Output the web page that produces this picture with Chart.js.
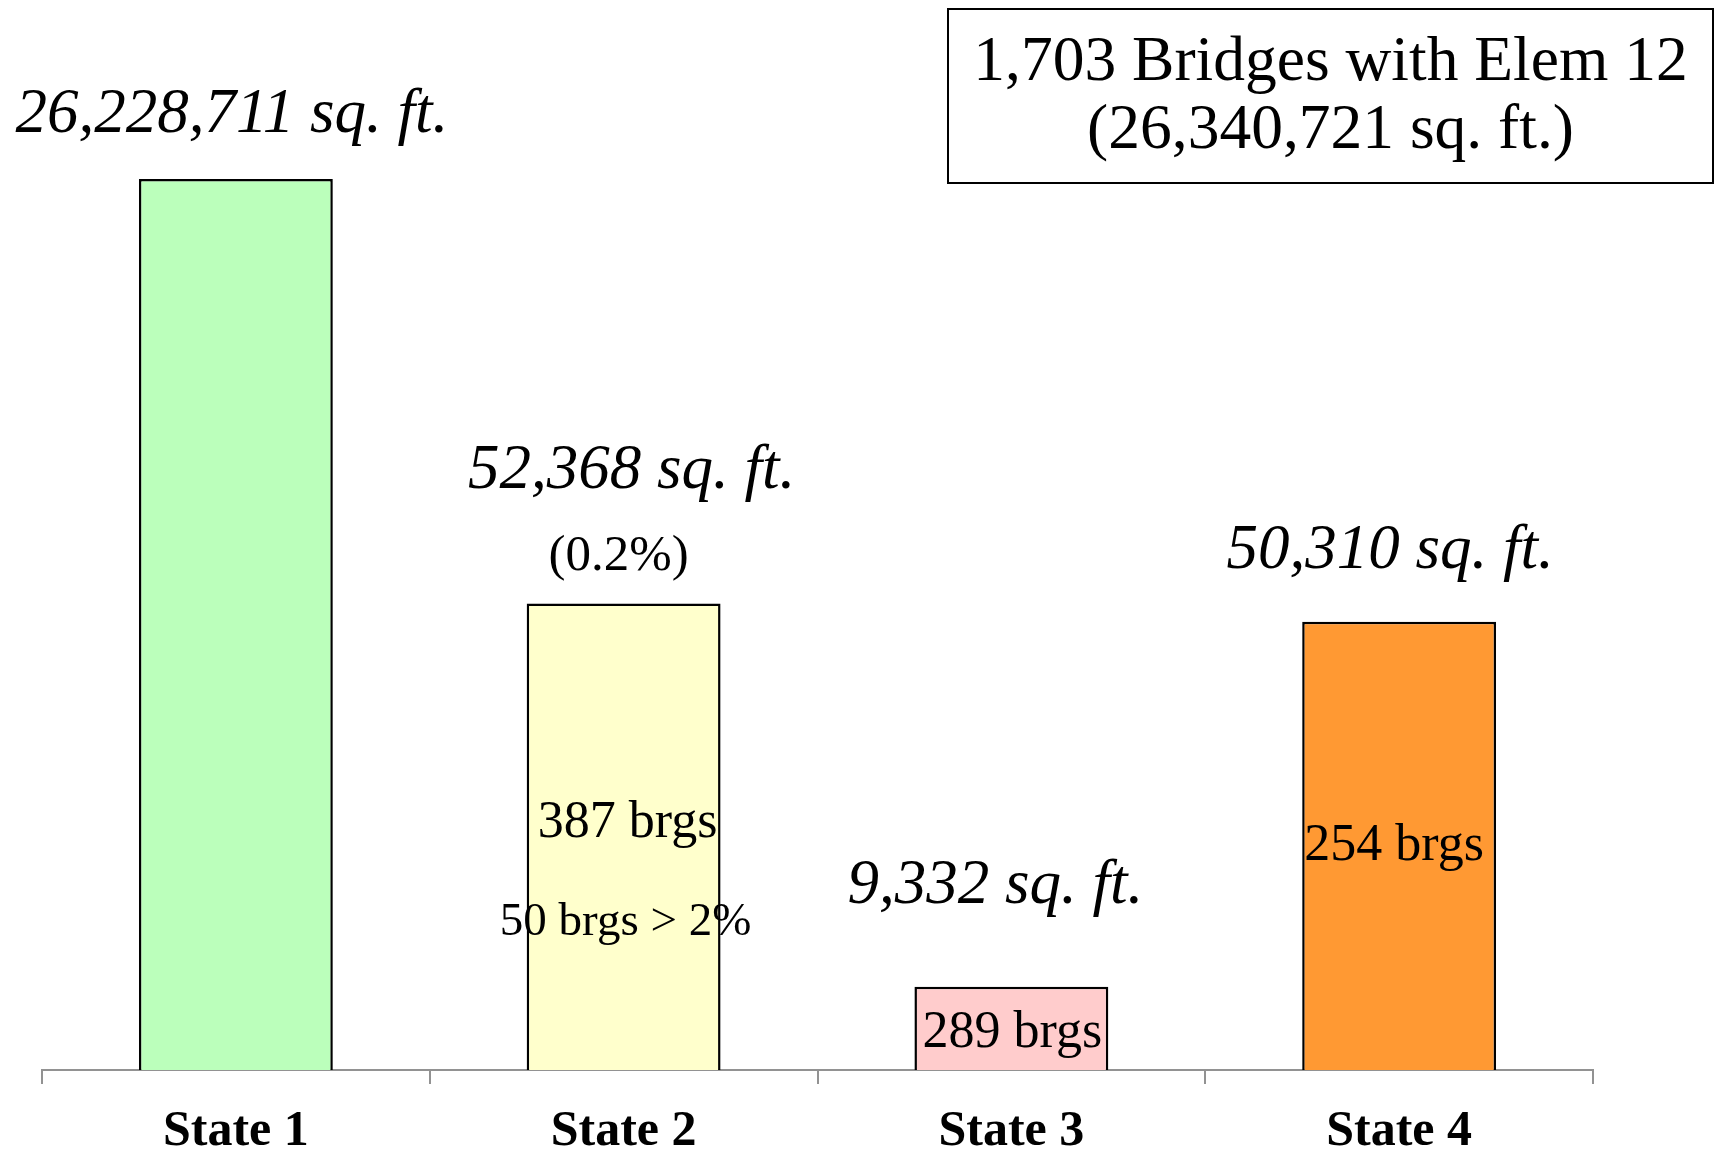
<!DOCTYPE html>
<html>
<head>
<meta charset="utf-8">
<script src="https://cdn.jsdelivr.net/npm/chart.js@4/dist/chart.umd.min.js"></script>
<style>
  html, body { margin: 0; padding: 0; background: #fff; }
  #wrap { width: 1719px; height: 1153px; }
</style>
</head>
<body>
<div id="wrap"><canvas id="c" width="1719" height="1153"></canvas></div>
<script>
// Deck area of element 12 by condition state
const categories   = ['State 1', 'State 2', 'State 3', 'State 4'];
const areaSqFt     = [26228711, 52368, 9332, 50310];
const bridgeCounts = [null, 387, 289, 254];
const shareLabels  = [null, '(0.2%)', null, null];
const noteLabels   = [null, '50 brgs > 2%', null, null];
const barColors    = ['#BBFFBB', '#FFFFCC', '#FFCCCC', '#FF9933'];
const totalBridges = 1703;
const totalSqFt    = 26340721;

// The value axis stops at 100,000 sq. ft.; State 1 runs off the top of it.
const axisMax = 100000;
const plotted = areaSqFt.map(v => Math.min(v, axisMax));

const SERIF = '"Liberation Serif", "Times New Roman", serif';
const fmt = n => n.toLocaleString('en-US');

// Text placement around each bar (pixel offsets from the bar's top / centre)
const areaOffset  = [[-4, -47], [8, -115], [-16, -84], [-9, -54]];
const shareOffset = [null, [-5, -33], null, null];
const countOffset = [null, [4, 234], [1, 60], [-5, 238]];
const noteOffset  = [null, [2, 332], null, null];

const annotate = {
  id: 'annotate',
  afterDatasetsDraw(chart) {
    const ctx = chart.ctx;
    const bars = chart.getDatasetMeta(0).data;
    ctx.save();
    ctx.fillStyle = '#000';
    ctx.textAlign = 'center';
    ctx.textBaseline = 'alphabetic';
    bars.forEach((bar, i) => {
      ctx.font = `italic 63px ${SERIF}`;
      ctx.fillText(`${fmt(areaSqFt[i])} sq. ft.`, bar.x + areaOffset[i][0], bar.y + areaOffset[i][1]);
      if (shareLabels[i]) {
        ctx.font = `51px ${SERIF}`;
        ctx.fillText(shareLabels[i], bar.x + shareOffset[i][0], bar.y + shareOffset[i][1]);
      }
      if (bridgeCounts[i] != null) {
        ctx.font = `52px ${SERIF}`;
        ctx.fillText(`${bridgeCounts[i]} brgs`, bar.x + countOffset[i][0], bar.y + countOffset[i][1]);
      }
      if (noteLabels[i]) {
        ctx.font = `47px ${SERIF}`;
        ctx.fillText(noteLabels[i], bar.x + noteOffset[i][0], bar.y + noteOffset[i][1]);
      }
    });

    // Totals box, top right
    const bx = 948, by = 9, bw = 765, bh = 174;
    ctx.lineWidth = 2;
    ctx.strokeStyle = '#000';
    ctx.strokeRect(bx, by, bw, bh);
    ctx.font = `63.5px ${SERIF}`;
    ctx.fillText(`${fmt(totalBridges)} Bridges with Elem 12`, bx + bw / 2, by + 71);
    ctx.fillText(`(${fmt(totalSqFt)} sq. ft.)`, bx + bw / 2, by + 139);
    ctx.restore();
  }
};

new Chart(document.getElementById('c'), {
  type: 'bar',
  data: {
    labels: categories,
    datasets: [{
      data: plotted,
      backgroundColor: barColors,
      borderColor: '#000',
      borderWidth: 2.5,
      barPercentage: 0.5,
      categoryPercentage: 1.0
    }]
  },
  options: {
    responsive: false,
    animation: false,
    devicePixelRatio: 1,
    layout: { padding: { left: 42, right: 126, top: 179, bottom: 0 } },
    plugins: { legend: { display: false }, tooltip: { enabled: false } },
    scales: {
      y: { display: false, min: 0, max: axisMax },
      x: {
        grid: { drawOnChartArea: false, drawTicks: true, tickLength: 14, color: '#929292', lineWidth: 2 },
        border: { display: true, color: '#929292', width: 2 },
        ticks: {
          color: '#000',
          padding: 18,
          font: { family: SERIF, size: 50, weight: 'bold' }
        },
        afterFit(scale) { scale.height = 83; }
      }
    }
  },
  plugins: [annotate]
});
</script>
</body>
</html>
